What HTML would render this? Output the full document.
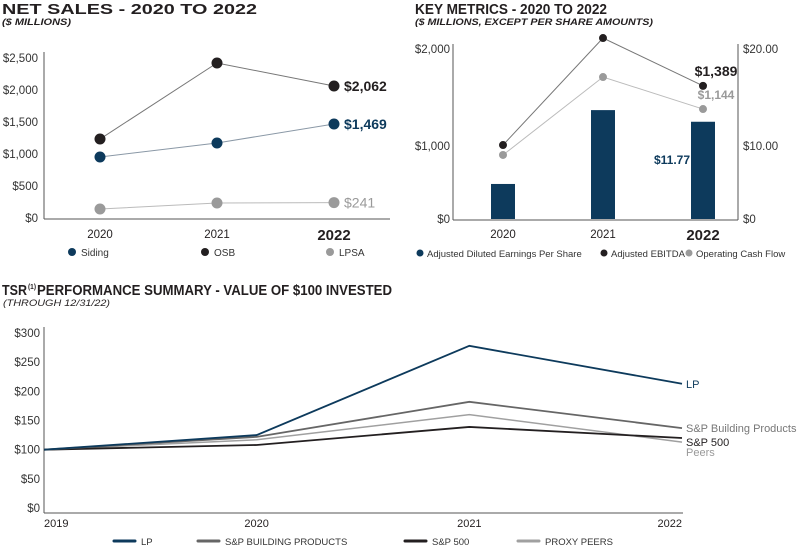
<!DOCTYPE html>
<html><head><meta charset="utf-8"><style>
body{margin:0;background:#fff;width:800px;height:547px;overflow:hidden}
svg{display:block;font-family:"Liberation Sans Narrow","Liberation Sans",sans-serif}
</style></head><body>
<svg id="s" width="800" height="547" viewBox="0 0 800 547" xmlns="http://www.w3.org/2000/svg">
<g font-family="Liberation Sans, sans-serif">
<text x="2" y="14" font-size="14.5" font-weight="bold" fill="#231f20" textLength="255" lengthAdjust="spacingAndGlyphs">NET SALES - 2020 TO 2022</text>
<text x="2" y="25" font-size="9.5" font-weight="bold" font-style="italic" fill="#231f20" textLength="69" lengthAdjust="spacingAndGlyphs">($ MILLIONS)</text>
<text x="415" y="14" font-size="14.5" font-weight="bold" fill="#231f20" textLength="192" lengthAdjust="spacingAndGlyphs">KEY METRICS - 2020 TO 2022</text>
<text x="415" y="25" font-size="9.5" font-weight="bold" font-style="italic" fill="#231f20" textLength="238" lengthAdjust="spacingAndGlyphs">($ MILLIONS, EXCEPT PER SHARE AMOUNTS)</text>
<text x="2" y="295" font-size="14.5" font-weight="bold" fill="#231f20" textLength="25" lengthAdjust="spacingAndGlyphs">TSR</text>
<text x="28" y="289" font-size="7" font-weight="bold" fill="#231f20" textLength="8" lengthAdjust="spacingAndGlyphs">(1)</text>
<text x="37" y="295" font-size="14.5" font-weight="bold" fill="#231f20" textLength="355" lengthAdjust="spacingAndGlyphs">PERFORMANCE SUMMARY - VALUE OF $100 INVESTED</text>
<text x="3" y="306" font-size="9.5" font-style="italic" fill="#231f20" textLength="107" lengthAdjust="spacingAndGlyphs">(THROUGH 12/31/22)</text>
</g>
<g id="c1"></g>
<g id="c2"></g>
<g id="c3"></g>
</svg>
<script>
// Chart 1 data
const salesYears=['2020','2021','2022'];
const siding=[953,1172,1469];
const osb=[1234,2422,2062];
const lpsa=[140,234,241];
const salesTicks=[0,500,1000,1500,2000,2500];
const salesTickLabels=['$0','$500','$1,000','$1,500','$2,000','$2,500'];
const salesEndLabels=['$1,469','$2,062','$241'];
// Chart 2 data
const kmYears=['2020','2021','2022'];
const eps=[4.8,13.7,12.5];
const ebitda=[1010,2113,1620];
const ocf=[877,1711,1381];
const kmLeftTicks=[0,1000,2000];
const kmLeftLabels=['$0','$1,000','$2,000'];
const kmRightTicks=[0,10,20];
const kmRightLabels=['$0','$10.00','$20.00'];
const kmValueLabels=['$1,389','$1,144','$11.77'];
// Chart 3 data
const tsrYears=['2019','2020','2021','2022'];
const tsrLP=[100,125,278,213];
const tsrBP=[100,122,182,137];
const tsrSP=[100,108,139,120];
const tsrPeers=[100,117,160,113];
const tsrTicks=[0,50,100,150,200,250,300];
const tsrTickLabels=['$0','$50','$100','$150','$200','$250','$300'];
const tsrSeriesNames=['LP','S&P Building Products','S&P 500','Peers'];
const tsrLegendNames=['LP','S&P BUILDING PRODUCTS','S&P 500','PROXY PEERS'];

const NS='http://www.w3.org/2000/svg';
function mk(p,t,a,txt){const e=document.createElementNS(NS,t);for(const k in a)e.setAttribute(k,a[k]);if(txt!=null)e.textContent=txt;p.appendChild(e);return e;}
const NAVY='#0d3a5c',BLK='#231f20',GRY='#9a9a9a';

// ---- Chart 1
(function(){
const g=document.getElementById('c1');
const y=v=>218-v/2500*160, x=i=>100+i*117;
let e=mk(g,'line',{x1:44,y1:52,x2:44,y2:219,stroke:'#555','stroke-width':1});

e=mk(g,'line',{x1:44,y1:219,x2:390,y2:219,stroke:'#555','stroke-width':1});

salesTicks.forEach((t,i)=>{e=mk(g,'text',{x:38,y:y(t)+4,'font-size':11.5,'text-anchor':'end',fill:'#333'},salesTickLabels[i]);
});
salesYears.forEach((s,i)=>{const b=i==2;e=mk(g,'text',{x:x(i),y:b?240:238,'font-size':b?15:11.5,'font-weight':b?'bold':'normal','text-anchor':'middle',fill:'#231f20'},s);
});
const series=[[lpsa,GRY,'#bbb','lpsa'],[siding,NAVY,'#8a98a6','siding'],[osb,BLK,'#777','osb']];
series.forEach(([d,c,lc,n])=>{
 e=mk(g,'polyline',{points:d.map((v,i)=>x(i)+','+y(v)).join(' '),fill:'none',stroke:lc,'stroke-width':1});
 
 d.forEach((v,i)=>{e=mk(g,'circle',{cx:x(i),cy:y(v),r:5.5,fill:c});
 });
});
e=mk(g,'text',{x:344,y:y(osb[2])+5,'font-size':14,'font-weight':'bold',fill:BLK},salesEndLabels[1]);

e=mk(g,'text',{x:344,y:y(siding[2])+5,'font-size':14,'font-weight':'bold',fill:NAVY},salesEndLabels[0]);

e=mk(g,'text',{x:344,y:y(lpsa[2])+5,'font-size':14,fill:GRY},salesEndLabels[2]);

[['Siding',NAVY,72],['OSB',BLK,205],['LPSA',GRY,330]].forEach(([t,c,lx])=>{
 e=mk(g,'circle',{cx:lx,cy:252,r:4,fill:c});
 e=mk(g,'text',{x:lx+9,y:256,'font-size':10,fill:'#333'},t);
});
})();

// ---- Chart 2
(function(){
const g=document.getElementById('c2');
const yl=v=>v<=1000?219-v/1000*73:146-(v-1000)/1000*97;
const yr=v=>yl(v*100);
const x=i=>503+i*100;
let e=mk(g,'line',{x1:453,y1:44,x2:453,y2:220,stroke:'#555'});
e=mk(g,'line',{x1:738,y1:44,x2:738,y2:220,stroke:'#555'});
e=mk(g,'line',{x1:453,y1:220,x2:738,y2:220,stroke:'#555'});
kmLeftTicks.forEach((t,i)=>{e=mk(g,'text',{x:450,y:yl(t)+4,'font-size':11.5,'text-anchor':'end',fill:'#333'},kmLeftLabels[i]);});
kmRightTicks.forEach((t,i)=>{e=mk(g,'text',{x:743,y:yr(t)+4,'font-size':11.5,fill:'#333'},kmRightLabels[i]);});
eps.forEach((v,i)=>{e=mk(g,'rect',{x:x(i)-12,y:yr(v),width:24,height:219-yr(v),fill:NAVY});});
kmYears.forEach((s,i)=>{const b=i==2;e=mk(g,'text',{x:x(i),y:b?240:238,'font-size':b?15:11.5,'font-weight':b?'bold':'normal','text-anchor':'middle',fill:'#231f20'},s);});
[[ocf,GRY,'#bbb','ocf'],[ebitda,BLK,'#777','ebitda']].forEach(([d,c,lc,n])=>{
 e=mk(g,'polyline',{points:d.map((v,i)=>x(i)+','+yl(v)).join(' '),fill:'none',stroke:lc,'stroke-width':1});
 d.forEach((v,i)=>{e=mk(g,'circle',{cx:x(i),cy:yl(v),r:4,fill:c});});
});
e=mk(g,'text',{x:716,y:yl(ebitda[2])-10,'font-size':14,'font-weight':'bold','text-anchor':'middle',fill:BLK},kmValueLabels[0]);
e=mk(g,'text',{x:716,y:yl(ocf[2])-10,'font-size':12,'font-weight':'bold','text-anchor':'middle',fill:GRY},kmValueLabels[1]);
e=mk(g,'text',{x:672,y:164,'font-size':12,'font-weight':'bold','text-anchor':'middle',fill:NAVY},kmValueLabels[2]);
[['Adjusted Diluted Earnings Per Share',NAVY,420],['Adjusted EBITDA',BLK,604],['Operating Cash Flow',GRY,689]].forEach(([t,c,lx])=>{
 e=mk(g,'circle',{cx:lx,cy:253,r:3.5,fill:c});
 e=mk(g,'text',{x:lx+7,y:257,'font-size':9.5,fill:'#333'},t);
});
})();

// ---- Chart 3
(function(){
const g=document.getElementById('c3');
const y=v=>508-v/300*175, x=i=>44+i*(682-44)/3;
let e=mk(g,'line',{x1:44,y1:327,x2:44,y2:513,stroke:'#555'});
e=mk(g,'line',{x1:44,y1:513,x2:683,y2:513,stroke:'#555'});
tsrTicks.forEach((t,i)=>{e=mk(g,'text',{x:40,y:y(t)+4,'font-size':11.5,'text-anchor':'end',fill:'#333'},tsrTickLabels[i]);});
tsrYears.forEach((s,i)=>{const a=i==0?'start':(i==3?'end':'middle');e=mk(g,'text',{x:x(i),y:527,'font-size':11,'text-anchor':a,fill:'#231f20'},s);});
const ser=[[tsrPeers,'#a0a0a0',1.5,'peers',444,'#999'],[tsrSP,BLK,1.8,'sp500',437,BLK],[tsrBP,'#666',1.8,'sp-building-products',428,'#777'],[tsrLP,NAVY,1.8,'lp',386,NAVY]];
ser.forEach(([d,c,w,n,ly,tc],k)=>{
 e=mk(g,'polyline',{points:d.map((v,i)=>x(i)+','+y(v)).join(' '),fill:'none',stroke:c,'stroke-width':w});
 e=mk(g,'text',{x:686,y:y(d[3])+(n=='peers'?10:(n=='sp500'?4:0))+4,'font-size':11,fill:tc},tsrSeriesNames[3-k]);
});
[[NAVY,114],['#666',198],[BLK,405],['#a0a0a0',518]].forEach(([c,lx],i)=>{
 e=mk(g,'line',{x1:lx,y1:541,x2:lx+21,y2:541,stroke:c,'stroke-width':3,'stroke-linecap':'round'});
 e=mk(g,'text',{x:lx+27,y:545,'font-size':9.5,fill:'#333'},tsrLegendNames[i]);
});
})();
</script>
</body></html>
